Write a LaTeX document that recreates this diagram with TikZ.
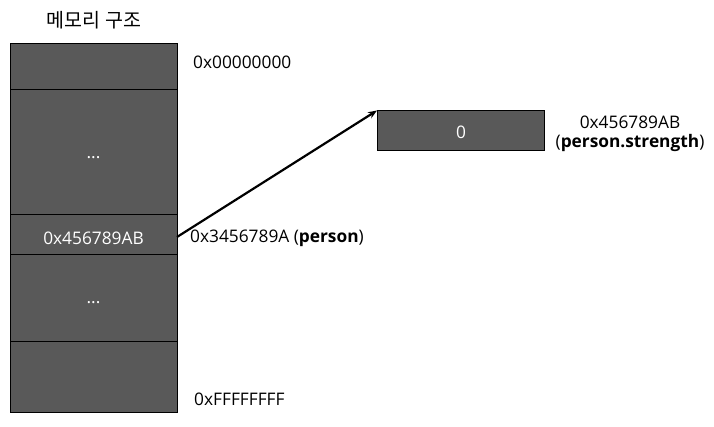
\documentclass[tikz,border=0pt]{standalone}
\usepackage{fontspec}
\usetikzlibrary{arrows.meta}
\setmainfont{Open Sans}
\newfontfamily\kofont{Noto Sans CJK KR}
\begin{document}
\begin{tikzpicture}[x=1pt,y=-1pt,
  cell/.style={draw=black,fill=memgray,line width=1pt},
  celltext/.style={text=white,font=\fontsize{17.3}{20}\selectfont},
  lbl/.style={font=\fontsize{17.3}{20}\selectfont,inner sep=0pt},
  ptr/.style={line width=2.2pt,-{Stealth[length=9pt,width=7pt]}}]
\definecolor{memgray}{HTML}{595959}
\useasboundingbox (0,0) rectangle (714,427);
\path[cell] (10,44) rectangle (177,90);
\path[cell] (10,90) rectangle (177,215);
\path[cell] (10,215) rectangle (177,255);
\path[cell] (10,255) rectangle (177,341);
\path[cell] (10,341) rectangle (177,412);
\node[celltext] (dots1) at (93.5,158) {...};
\node[celltext] (ptrcell) at (93.5,238) {0x456789AB};
\node[celltext] (dots2) at (93.5,303) {...};
\coordinate (src) at (177,237);
\node[cell,minimum width=167pt,minimum height=39.5pt,anchor=north west,inner sep=0pt] (target) at (377,110.5) {};
\node[celltext] (zero) at ([yshift=-1.5pt]target.center) {0};
\node[font=\kofont\fontsize{19.5}{22}\selectfont,inner sep=0pt] (title) at (94,20.5) {메모리 구조};
\node[lbl,anchor=west] (addr0) at (193,62.5) {0x00000000};
\node[lbl,anchor=west] (addrF) at (194,399.5) {0xFFFFFFFF};
\node[lbl,anchor=west] (paddr) at (190,238.5) {0x3456789A (\textbf{person})};
\node[lbl] (taddr) at (630,122.5) {0x456789AB};
\node[lbl] (tname) at (630,143.5) {(\textbf{person.strength})};
\draw[ptr] (src) -- (target.north west);
\end{tikzpicture}
\end{document}
